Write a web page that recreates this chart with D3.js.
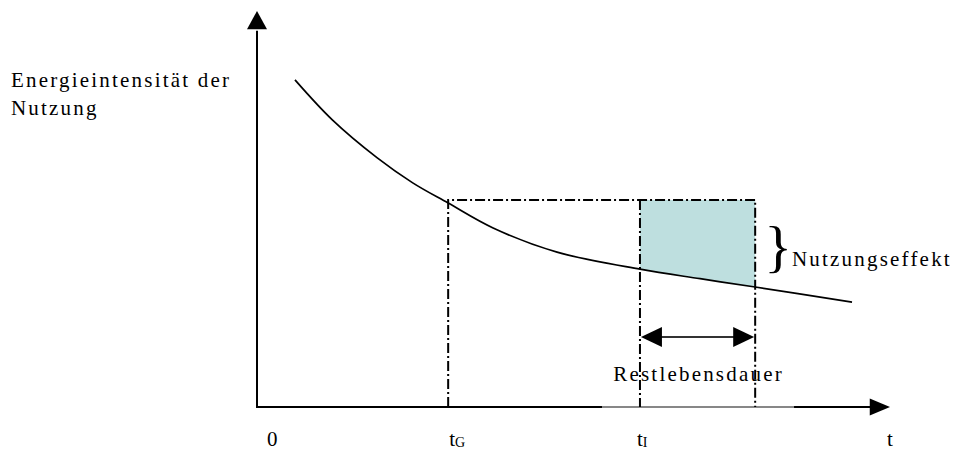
<!DOCTYPE html>
<html>
<head>
<meta charset="utf-8">
<script src="https://cdn.jsdelivr.net/npm/d3@7"></script>
<style>
  body { margin: 0; background: #fff; }
  svg text { font-family: "Liberation Serif", "Times New Roman", serif; fill: #000; }
</style>
</head>
<body>
<div id="chart-area"></div>
<script>
// curve: energy intensity of use over time (arbitrary units 0..100)
const curveT = [6, 11.9, 19, 24.6, 30.2, 37.3, 47.4, 60.5, 70, 78.7, 94];
const curveE = [82.6, 72.5, 62.9, 56.6, 51.5, 45.2, 39.1, 34.8, 32.4, 30.3, 26.5];

// marker times and levels
const tG = 30.2;
const tI = 60.5;
const tEnd = 78.7;
const topLevel = 52.3;
const arrowLevel = 17.7;

const tickLabels = [
    { t: 0, main: "0", sub: "", dx: 10 },
    { t: tG, main: "t", sub: "G", dx: 1 },
    { t: tI, main: "t", sub: "I", dx: -3 },
    { t: 100, main: "t", sub: "", dx: -3 }
];
const yLabel = ["Energieintensität der", "Nutzung"];

const svgWidth = 960, svgHeight = 452;

const svg = d3.select("#chart-area")
    .append("svg")
    .attr("width", svgWidth)
    .attr("height", svgHeight);

const x = d3.scaleLinear().domain([0, 100]).range([257, 890]);
const y = d3.scaleLinear().domain([0, 100]).range([407, 11]);

const points = curveT.map((t, i) => ({ t, e: curveE[i] }));
const curveType = d3.curveCatmullRom;

// teal area between rectangle top and curve
const fillPts = points.filter(d => d.t >= tI && d.t <= tEnd);
svg.append("path")
    .datum(fillPts)
    .attr("fill", "#bedfdf")
    .attr("d", d3.area().curve(curveType)
        .x(d => x(d.t))
        .y0(d => y(d.e))
        .y1(y(topLevel)));

// axes
svg.append("line")
    .attr("x1", x(0)).attr("x2", x(0))
    .attr("y1", y(0) + 1).attr("y2", y(95))
    .attr("stroke", "#000").attr("stroke-width", 2);
svg.append("path")
    .attr("d", `M${x(0)},${y(100)} L${x(0) - 10},${y(95.4)} L${x(0) + 10},${y(95.4)} Z`)
    .attr("fill", "#000");

svg.append("line")
    .attr("x1", x(0)).attr("x2", x(97))
    .attr("y1", y(0)).attr("y2", y(0))
    .attr("stroke", "#111").attr("stroke-width", 1.2);
[[0, 54.5], [85, 97]].forEach(([a, b]) => {
    svg.append("line")
        .attr("x1", x(a) - 1).attr("x2", x(b))
        .attr("y1", y(0)).attr("y2", y(0))
        .attr("stroke", "#000").attr("stroke-width", 2);
});
svg.append("path")
    .attr("d", `M${x(100)},${y(0)} L${x(96.8)},${y(0) - 8.5} L${x(96.8)},${y(0) + 8.5} Z`)
    .attr("fill", "#000");

// dash-dot frame
const dash = "10,3,2,3";
svg.append("path")
    .attr("d", `M${x(tG)},${y(0)} L${x(tG)},${y(topLevel)} L${x(tEnd)},${y(topLevel)} L${x(tEnd)},${y(0)}`)
    .attr("fill", "none")
    .attr("stroke", "#000")
    .attr("stroke-width", 2)
    .attr("stroke-dasharray", dash);
svg.append("line")
    .attr("x1", x(tI)).attr("x2", x(tI))
    .attr("y1", y(topLevel)).attr("y2", y(0))
    .attr("stroke", "#000")
    .attr("stroke-width", 2)
    .attr("stroke-dasharray", dash);

// the curve
svg.append("path")
    .datum(points)
    .attr("fill", "none")
    .attr("stroke", "#000")
    .attr("stroke-width", 1.7)
    .attr("d", d3.line().curve(curveType).x(d => x(d.t)).y(d => y(d.e)));

// double arrow (Restlebensdauer)
const ay = y(arrowLevel);
svg.append("line")
    .attr("x1", x(tI) + 15).attr("x2", x(tEnd) - 15)
    .attr("y1", ay).attr("y2", ay)
    .attr("stroke", "#333").attr("stroke-width", 2);
svg.append("path")
    .attr("d", `M${x(tI) + 1},${ay} L${x(tI) + 22},${ay - 10} L${x(tI) + 22},${ay + 10} Z`)
    .attr("fill", "#000");
svg.append("path")
    .attr("d", `M${x(tEnd) - 1},${ay} L${x(tEnd) - 22},${ay - 10} L${x(tEnd) - 22},${ay + 10} Z`)
    .attr("fill", "#000");

svg.append("text")
    .attr("x", (x(tI) + x(tEnd)) / 2 + 1)
    .attr("y", 381)
    .attr("text-anchor", "middle")
    .style("font-size", "21px")
    .style("letter-spacing", "2.2px")
    .text("Restlebensdauer");

// brace + Nutzungseffekt
svg.append("text")
    .attr("x", x(tEnd) + 9)
    .attr("y", 266)
    .style("font-size", "58px")
    .text("}");
svg.append("text")
    .attr("x", 792)
    .attr("y", 266)
    .style("font-size", "21px")
    .style("letter-spacing", "2.2px")
    .text("Nutzungseffekt");

// y label
svg.append("text")
    .attr("x", 11)
    .attr("y", 87)
    .style("font-size", "21px")
    .style("letter-spacing", "2.2px")
    .selectAll("tspan")
    .data(yLabel)
    .join("tspan")
    .attr("x", 11)
    .attr("dy", (d, i) => i === 0 ? 0 : 28)
    .text(d => d);

// bottom labels
const lab = svg.selectAll(".tick-label")
    .data(tickLabels)
    .join("text")
    .attr("class", "tick-label")
    .attr("x", d => x(d.t) + d.dx)
    .attr("y", 446)
    .style("font-size", "21px");
lab.append("tspan").text(d => d.main);
lab.append("tspan")
    .attr("dy", 1)
    .style("font-size", "14px")
    .text(d => d.sub);
</script>
</body>
</html>
